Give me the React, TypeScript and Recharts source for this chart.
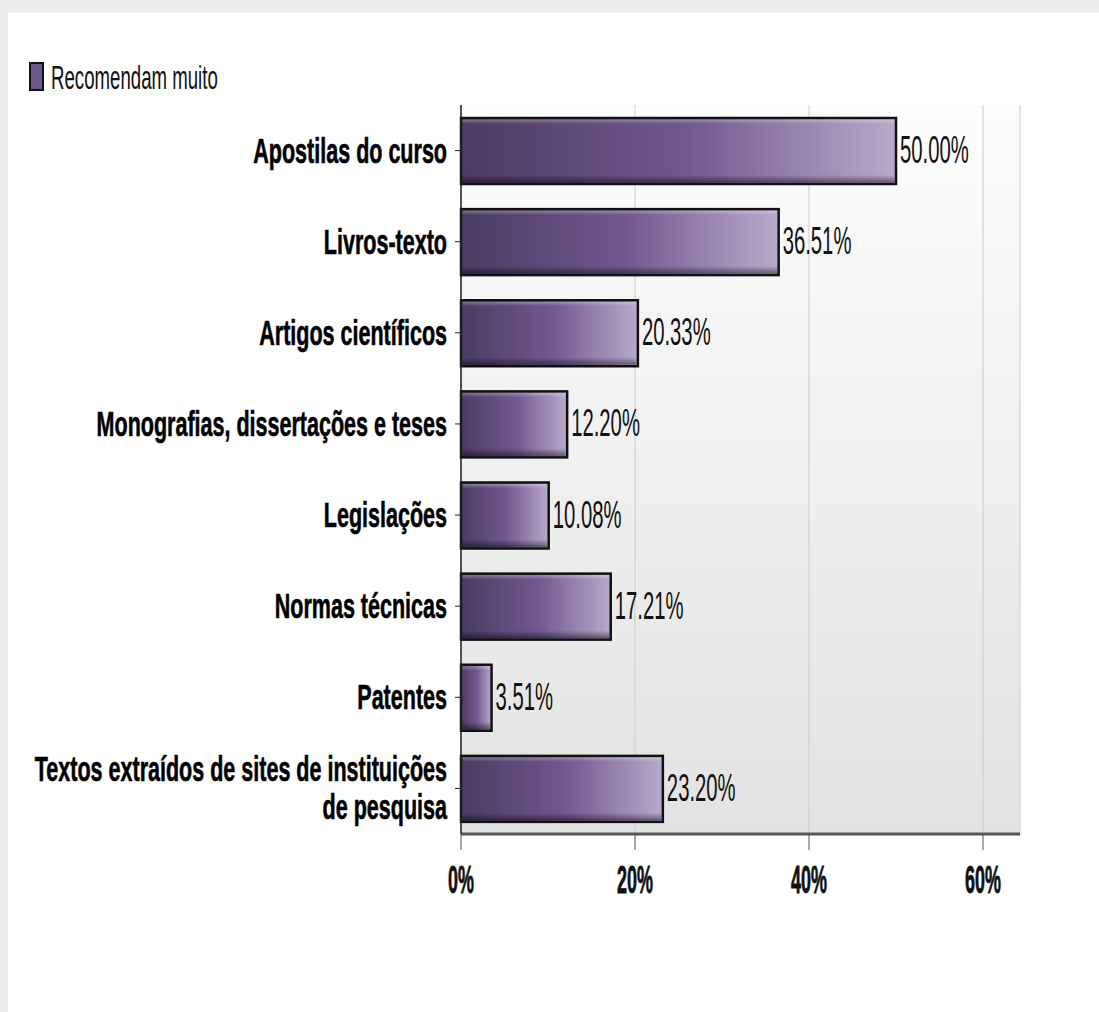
import { BarChart, Bar, XAxis, YAxis, CartesianGrid, LabelList } from "recharts";

const categories = [
  "Apostilas do curso",
  "Livros-texto",
  "Artigos científicos",
  "Monografias, dissertações e teses",
  "Legislações",
  "Normas técnicas",
  "Patentes",
  "Textos extraídos de sites de instituições de pesquisa",
];
const recomendamMuito = [50.0, 36.51, 20.33, 12.2, 10.08, 17.21, 3.51, 23.2];
const xTicks = [0, 20, 40, 60];
const seriesName = "Recomendam muito";

const data = categories.map((name, i) => ({ name, value: recomendamMuito[i] }));

const FONT = '"Liberation Sans", Arial, sans-serif';

// break long category names into lines of ~42 chars
function wrap(label: string, max = 42) {
  const lines: string[] = [];
  let cur = "";
  for (const w of label.split(" ")) {
    const next = cur ? cur + " " + w : w;
    if (next.length > max && cur) {
      lines.push(cur);
      cur = w;
    } else {
      cur = next;
    }
  }
  if (cur) lines.push(cur);
  return lines;
}

function YTick(props: any) {
  const { x, y, payload } = props;
  const lines = wrap(String(payload.value));
  const lh = 38;
  const start = y - ((lines.length - 1) * lh) / 2;
  return (
    <g>
      {lines.map((l, i) => (
        <text
          key={i}
          transform={`translate(${x},${start + i * lh + 12}) scale(0.615,1)`}
          textAnchor="end"
          fontFamily={FONT}
          fontWeight="bold"
          fontSize={35}
          fill="#000"
          stroke="#000"
          strokeWidth={0.6}
        >
          {l}
        </text>
      ))}
    </g>
  );
}

function XTick(props: any) {
  const { x, y, payload } = props;
  return (
    <text
      transform={`translate(${x},${y + 41}) scale(0.46,1)`}
      textAnchor="middle"
      fontFamily={FONT}
      fontWeight="bold"
      fontSize={39}
      fill="#111"
      stroke="#111"
      strokeWidth={0.8}
    >
      {payload.value}%
    </text>
  );
}

function ValueLabel(props: any) {
  const { x, y, width, height, value } = props;
  return (
    <text
      transform={`translate(${x + width + 4},${y + height / 2 + 12}) scale(0.52,1)`}
      fontFamily={FONT}
      fontSize={39}
      fill="#111"
    >
      {Number(value).toFixed(2)}%
    </text>
  );
}

function BevelBar(props: any) {
  const { x, y, width, height } = props;
  if (!width || width <= 0) return null;
  return (
    <g>
      <rect x={x} y={y} width={width} height={height} fill="url(#barFill)" stroke="#111" strokeWidth={2.5} />
      <rect x={x + 1.5} y={y + 1.5} width={Math.max(width - 3, 0)} height={height - 3} fill="url(#barShade)" />
    </g>
  );
}

export default function App() {
  return (
    <div style={{ position: "absolute", left: 0, top: 0, width: 1099, height: 1012, background: "#eeeeee", overflow: "hidden" }}>
      <div style={{ position: "absolute", left: 8, top: 13, width: 1091, height: 999, background: "#ffffff" }} />
      <svg style={{ position: "absolute", left: 0, top: 55 }} width={300} height={45}>
        <rect x={30} y={8} width={13} height={27} fill="#6c5890" stroke="#111" strokeWidth={2} />
        <text transform="translate(51,34) scale(0.565,1)" fontFamily={FONT} fontSize={33} fill="#111">
          {seriesName}
        </text>
      </svg>
      <div style={{ position: "absolute", left: 0, top: 0 }}>
        <BarChart
          width={1099}
          height={1012}
          data={data}
          layout="vertical"
          margin={{ top: 105, right: 79, bottom: 118, left: 0 }}
          barSize={66}
        >
          <defs>
            <linearGradient id="plotBg" x1="0" y1="0" x2="0" y2="1">
              <stop offset="0%" stopColor="#fdfdfd" />
              <stop offset="100%" stopColor="#e2e2e2" />
            </linearGradient>
            <linearGradient id="barFill" x1="0" y1="0" x2="1" y2="0">
              <stop offset="0%" stopColor="#4a3c62" />
              <stop offset="52%" stopColor="#715890" />
              <stop offset="100%" stopColor="#b8aac9" />
            </linearGradient>
            <linearGradient id="barShade" x1="0" y1="0" x2="0" y2="1">
              <stop offset="0%" stopColor="#ffffff" stopOpacity={0.3} />
              <stop offset="7%" stopColor="#ffffff" stopOpacity={0} />
              <stop offset="88%" stopColor="#000000" stopOpacity={0} />
              <stop offset="100%" stopColor="#000000" stopOpacity={0.45} />
            </linearGradient>
          </defs>
          <CartesianGrid horizontal={false} stroke="#cccccc" fill="url(#plotBg)" />
          <XAxis
            type="number"
            domain={[0, 64.25]}
            ticks={xTicks}
            height={60}
            axisLine={{ stroke: "#555", strokeWidth: 3 }}
            tickLine={{ stroke: "#555" }}
            tickSize={16}
            tick={<XTick />}
            interval={0}
          />
          <YAxis
            type="category"
            dataKey="name"
            width={461}
            axisLine={{ stroke: "#222", strokeWidth: 1.5 }}
            tickLine={{ stroke: "#222" }}
            tickSize={6}
            tickMargin={8}
            tick={<YTick />}
            interval={0}
          />
          <Bar dataKey="value" name={seriesName} shape={<BevelBar />} isAnimationActive={false}>
            <LabelList dataKey="value" content={<ValueLabel />} />
          </Bar>
        </BarChart>
      </div>
    </div>
  );
}
